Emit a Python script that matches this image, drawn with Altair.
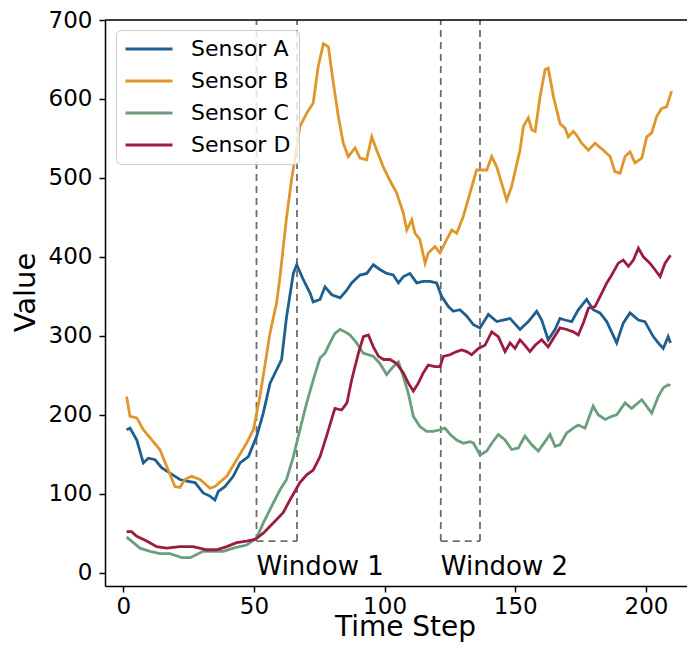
import altair as alt
import pandas as pd

# ---- data ----
a_x = [1.3, 2.6, 5.2, 7.7, 9.6, 12.2, 14.7, 17.9, 21.7, 24.3, 27.5, 30.6, 33.2, 35.1, 36.4, 38.9, 42.1, 44.7, 47.9, 51.1,
       53.6, 56.2, 58.7, 60.6, 62.5, 65.1, 66.4, 68.9, 71.5, 72.7, 75.3, 77.2, 79.8, 83.0, 85.6, 87.4, 90.6, 93.2, 95.7,
       98.2, 100.8, 103.3, 105.3, 107.2, 109.7, 112.3, 114.8, 117.4, 119.9, 121.8, 124.4, 126.3, 128.8, 131.4, 134.0,
       136.5, 139.7, 142.9, 148.0, 151.8, 155.0, 158.2, 160.1, 162.6, 165.2, 167.1, 169.0, 171.6, 174.1, 177.3, 179.8,
       182.4, 185.0, 188.8, 191.3, 193.9, 197.1, 199.6, 202.8, 204.7, 206.6, 208.5, 209.4]
a_y = [181, 183, 168, 139, 145, 143, 133, 126, 118, 116, 114, 101, 97, 92, 103, 109, 122, 139, 147, 173,
       202, 240, 257, 270, 324, 379, 390, 371, 354, 343, 346, 362, 352, 348, 358, 367, 377, 379, 390,
       384, 379, 377, 367, 375, 379, 367, 369, 369, 367, 350, 337, 331, 333, 325, 314,
       310, 327, 318, 322, 308, 318, 331, 320, 295, 308, 322, 320, 318, 333, 346, 333,
       329, 318, 291, 316, 329, 320, 318, 299, 291, 284, 299, 291]

b_x = [1.3, 2.6, 5.2, 7.7, 11.5, 14.0, 16.6, 19.8, 21.7, 23.6, 26.2, 29.4, 33.2, 35.1, 39.6, 43.4, 47.2, 49.8, 52.3,
       56.2, 58.7, 60.0, 62.5, 64.5, 66.5, 67.6, 70.2, 72.7, 74.6, 76.6, 78.5, 80.4, 82.3, 84.2, 86.1, 88.7, 90.6,
       93.1, 95.1, 97.0, 99.5, 102.0, 104.6, 107.2, 108.5, 110.4, 111.6, 113.5, 115.5, 116.7, 118.0, 119.3, 121.2,
       123.8, 125.7, 127.6, 130.1, 132.7, 135.2, 136.5, 139.1, 141.0, 142.9, 144.8, 146.7, 148.6, 149.9, 151.8,
       153.1, 155.0, 156.3, 157.6, 159.5, 161.4, 162.6, 164.6, 167.1, 169.0, 170.3, 172.2, 173.5, 175.4, 178.0,
       180.5, 183.7, 186.3, 188.1, 190.1, 192.0, 193.9, 195.8, 198.4, 200.3, 202.2, 204.1, 206.0, 207.9, 209.8]
b_y = [223, 198, 196, 181, 166, 156, 135, 109, 108, 118, 122, 118, 107, 109, 122, 143, 164, 181, 223,
       304, 342, 375, 450, 500, 540, 565, 582, 595, 641, 670, 666, 620, 578, 544, 527, 538, 525,
       523, 552, 535, 514, 497, 481, 455, 434, 447, 430, 422, 392, 405, 409, 413, 405,
       422, 434, 430, 451, 481, 510, 510, 510, 527, 514, 493, 472, 489, 508, 535,
       565, 576, 561, 559, 603, 637, 639, 603, 569, 563, 552, 559, 554, 544, 535,
       544, 535, 527, 508, 506, 527, 533, 519, 525, 552, 557, 578, 588, 590, 610]

c_x = [1.3, 3.9, 6.4, 10.3, 14.1, 17.9, 22.4, 25.6, 28.1, 30.6, 34.5, 38.3, 42.1, 47.2, 51.1, 53.6, 57.4, 60.0, 62.5,
       65.1, 67.6, 70.2, 72.7, 75.3, 77.2, 79.1, 81.0, 83.0, 84.9, 86.8, 89.3, 91.8, 95.7, 98.2, 100.8, 103.3, 105.3,
       107.2, 109.1, 111.0, 113.5, 116.1, 118.6, 121.2, 123.1, 125.1, 127.6, 130.1, 132.7, 134.0, 136.5, 139.1,
       141.0, 143.5, 146.1, 148.6, 151.2, 153.7, 156.3, 158.8, 161.4, 163.3, 165.2, 167.1, 169.7, 172.2, 174.1,
       176.7, 179.8, 181.7, 184.4, 186.9, 188.8, 192.0, 194.5, 198.4, 202.2, 204.7, 206.6, 208.5, 209.4]
c_y = [45, 38, 31, 27, 24, 24, 19, 19, 23, 27, 27, 27, 31, 35, 44, 63, 88, 105, 118,
       147, 181, 215, 244, 272, 278, 291, 303, 308, 305, 301, 291, 278, 274, 265, 251, 261, 267,
       248, 227, 198, 185, 179, 179, 181, 183, 175, 168, 164, 166, 164, 149, 154,
       164, 175, 168, 156, 158, 173, 162, 154, 166, 175, 160, 162, 177, 183, 187,
       183, 211, 200, 194, 198, 200, 215, 208, 219, 202, 223, 234, 238, 237]

d_x = [1.3, 3.2, 5.2, 9.0, 12.8, 16.6, 21.7, 26.8, 31.9, 35.8, 39.6, 43.4, 47.2, 50.4, 53.6, 57.4, 61.2, 63.8, 67.6,
       70.2, 72.7, 75.3, 77.8, 81.0, 83.6, 85.6, 87.4, 90.0, 91.9, 93.8, 95.7, 97.7, 99.6, 102.1, 104.6, 107.2, 109.1,
       111.0, 112.9, 114.8, 116.7, 119.3, 121.2, 122.5, 125.0, 127.6, 129.5, 131.4, 133.3, 135.9, 138.4, 141.0,
       143.5, 146.1, 148.0, 149.9, 151.8, 153.7, 155.6, 157.6, 160.1, 162.6, 164.6, 167.1, 169.7, 172.2, 174.1,
       176.0, 178.0, 180.5, 183.1, 185.0, 186.9, 189.4, 191.3, 193.3, 195.2, 197.1, 199.0, 201.5, 203.4, 205.4,
       207.3, 209.4]
d_y = [52, 52, 46, 40, 33, 31, 33, 33, 29, 29, 33, 38, 40, 42, 50, 63, 76, 92, 114,
       124, 130, 147, 173, 208, 206, 215, 244, 278, 299, 301, 286, 274, 270, 270, 265, 253, 240,
       230, 240, 253, 263, 261, 261, 274, 276, 280, 282, 280, 276, 284, 288, 305,
       299, 280, 291, 284, 295, 288, 280, 288, 295, 286, 297, 310, 308, 305, 301,
       316, 335, 337, 354, 367, 377, 392, 396, 388, 396, 411, 400, 392, 384, 375,
       392, 402]

sensor_names = ["Sensor A", "Sensor B", "Sensor C", "Sensor D"]
sensor_colors = ["#1f5f8f", "#e0962a", "#6b9e7d", "#9b1c3f"]

win_starts = [51.0, 121.5]
win_ends = [66.5, 136.5]
win_bottom = 40
win_top = 700
win_labels = ["Window 1", "Window 2"]
label_y = -2.5

x_ticks = [0, 50, 100, 150, 200]
y_ticks = [0, 100, 200, 300, 400, 500, 600, 700]

# ---- tables ----
rows = []
for name, xs_, ys_ in zip(sensor_names, [a_x, b_x, c_x, d_x], [a_y, b_y, c_y, d_y]):
    for i, (xv, yv) in enumerate(zip(xs_, ys_)):
        rows.append({"sensor": name, "t": xv, "v": yv, "order": i})
lines_df = pd.DataFrame(rows)

seg_rows = []
for s, e in zip(win_starts, win_ends):
    seg_rows.append({"x": s, "x2": s, "y": win_bottom, "y2": win_top})
    seg_rows.append({"x": e, "x2": e, "y": win_bottom, "y2": win_top})
    seg_rows.append({"x": s, "x2": e, "y": win_bottom, "y2": win_bottom})
seg_df = pd.DataFrame(seg_rows)

lab_df = pd.DataFrame({"x": win_starts, "y": [label_y] * 2, "label": win_labels})

FONT = "DejaVu Sans"
W, H = 582, 566
xs = alt.Scale(domain=[-6.96, 215.7], nice=False, zero=False)
ys = alt.Scale(domain=[-16.9, 700], nice=False, zero=False)

x_axis = alt.Axis(values=x_ticks, title="Time Step", grid=False, labelFontSize=23, titleFontSize=28,
                  titleFontWeight="normal", tickSize=6, tickWidth=1.5, domainWidth=1.5,
                  domainColor="black", tickColor="black", labelColor="black", titleColor="black",
                  labelPadding=3, titleX=300, titleY=49, titleBaseline="alphabetic", titleAlign="center",
                  labelFont=FONT, titleFont=FONT)
y_axis = alt.Axis(values=y_ticks, title="Value", grid=False, labelFontSize=23, titleFontSize=29,
                  titleFontWeight="normal", tickSize=6, tickWidth=1.5, domainWidth=1.5,
                  domainColor="black", tickColor="black", labelColor="black", titleColor="black",
                  labelPadding=7, titleX=-80, titleY=272, titleAngle=270, titleBaseline="middle",
                  titleAlign="center", labelFont=FONT, titleFont=FONT)

windows = alt.Chart(seg_df).mark_rule(color="#6e6e6e", strokeDash=[7, 5], strokeWidth=1.8).encode(
    x=alt.X("x:Q", scale=xs, axis=x_axis),
    x2="x2:Q",
    y=alt.Y("y:Q", scale=ys, axis=y_axis),
    y2="y2:Q",
)

lines = alt.Chart(lines_df).mark_line(strokeWidth=2.8).encode(
    x=alt.X("t:Q", scale=xs, axis=x_axis),
    y=alt.Y("v:Q", scale=ys, axis=y_axis),
    order="order:Q",
    color=alt.Color("sensor:N", scale=alt.Scale(domain=sensor_names, range=sensor_colors),
                    legend=alt.Legend(title=None, orient="none", legendX=11, legendY=10,
                                      symbolType="stroke", symbolSize=2209, symbolStrokeWidth=3,
                                      labelFontSize=22, labelFont=FONT, labelColor="black",
                                      labelOffset=17, rowPadding=10, padding=8, clipHeight=22,
                                      fillColor="rgba(255,255,255,0.8)", strokeColor="#cccccc",
                                      cornerRadius=5)),
)

labels = alt.Chart(lab_df).mark_text(align="left", baseline="alphabetic", fontSize=26, font=FONT,
                                     color="black").encode(
    x=alt.X("x:Q", scale=xs),
    y=alt.Y("y:Q", scale=ys),
    text="label:N",
)

top_border = alt.Chart(pd.DataFrame({"k": [0]})).mark_rule(color="black", strokeWidth=1.5).encode(
    x=alt.value(0), x2=alt.value(W), y=alt.value(0)
)

chart = alt.layer(windows, lines, labels, top_border).properties(
    width=W, height=H,
    autosize=alt.AutoSizeParams(type="none"),
    padding={"left": 97, "top": 12, "right": 0, "bottom": 64},
).configure_view(stroke=None).configure(background="white")

chart.save("out.html", embed_options={"renderer": "svg", "actions": False})
